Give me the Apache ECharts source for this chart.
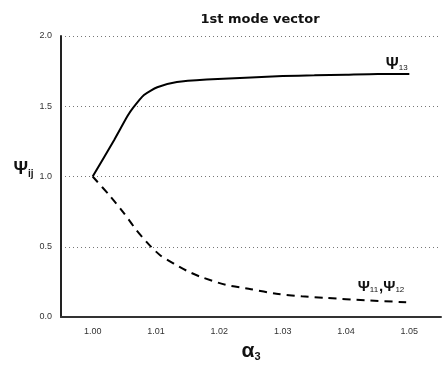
<!DOCTYPE html>
<html>
<head>
<meta charset="utf-8">
<script src="https://cdn.jsdelivr.net/npm/echarts@6/dist/echarts.min.js"></script>
<style>
  html, body { margin: 0; padding: 0; background: #fff; }
  #chart { width: 444px; height: 367px; }
</style>
</head>
<body>
<div id="chart"></div>
<script>
// alpha_3 values and mode shape components
var psi13X = [1.000, 1.0034, 1.0055, 1.0064, 1.0081, 1.0102, 1.0133, 1.018, 1.025, 1.030, 1.035, 1.040, 1.045, 1.050];
var psi13Y = [1.00, 1.26, 1.43, 1.49, 1.58, 1.635, 1.672, 1.69, 1.705, 1.715, 1.72, 1.725, 1.73, 1.73];
var psi11X = [1.000, 1.0028, 1.0049, 1.0068, 1.0089, 1.0107, 1.013, 1.015, 1.017, 1.021, 1.025, 1.029, 1.033, 1.037, 1.043, 1.0495];
var psi11Y = [1.00, 0.858, 0.741, 0.625, 0.515, 0.438, 0.375, 0.326, 0.287, 0.229, 0.198, 0.165, 0.147, 0.135, 0.119, 0.105];
var yTicks = [0, 0.5, 1.0, 1.5, 2.0];

function pairs(xs, ys) {
  return xs.map(function (x, i) { return [x, ys[i]]; });
}

var chart = echarts.init(document.getElementById("chart"));
var font = "Liberation Sans";

var option = {
  animation: false,
  backgroundColor: "#fff",
  title: {
    text: "1st mode vector",
    left: 255,
    top: 8,
    textAlign: "center",
    textStyle: { fontFamily: "DejaVu Sans", fontSize: 13, fontWeight: "bold", color: "#111" }
  },
  grid: { left: 61, right: 0, top: 36, bottom: 46 },
  xAxis: {
    type: "value",
    min: 0.995,
    max: 1.055,
    interval: 0.005,
    name: "{a|α}{s|3}",
    nameLocation: "middle",
    nameGap: 24,
    nameTextStyle: {
      rich: {
        a: { fontFamily: font, fontSize: 21, fontWeight: "bold", color: "#111" },
        s: { fontFamily: font, fontSize: 11, fontWeight: "bold", color: "#111", verticalAlign: "bottom", padding: [8, 0, 0, 0] }
      }
    },
    axisLine: { lineStyle: { color: "#333", width: 2 } },
    axisTick: { show: false },
    splitLine: { show: false },
    axisLabel: {
      margin: 10,
      fontFamily: font,
      fontSize: 9,
      color: "#333",
      formatter: function (v) {
        var k = Math.round(v * 1000);
        return k % 10 === 0 ? (k / 1000).toFixed(2) : "";
      }
    }
  },
  yAxis: {
    type: "value",
    min: yTicks[0],
    max: yTicks[yTicks.length - 1],
    interval: 0.5,
    name: "{a|Ψ}{s|ij}",
    nameLocation: "middle",
    nameRotate: 0,
    nameGap: 24,
    nameTextStyle: {
      align: "right",
      padding: [0, 0, 14, 0],
      rich: {
        a: { fontFamily: font, fontSize: 18, fontWeight: "bold", color: "#111" },
        s: { fontFamily: font, fontSize: 10, fontWeight: "bold", color: "#111", padding: [9, 0, 0, 0] }
      }
    },
    axisLine: { show: true, lineStyle: { color: "#222", width: 2 } },
    axisTick: { show: false },
    axisLabel: {
      margin: 9,
      fontFamily: font,
      fontSize: 9,
      color: "#333",
      formatter: function (v) { return v.toFixed(1); }
    },
    splitLine: { show: true, lineStyle: { color: "#777", type: [1, 3], width: 1 } }
  },
  series: [
    {
      name: "psi13",
      type: "line",
      smooth: 0.2,
      symbol: "none",
      lineStyle: { color: "#000", width: 2 },
      data: pairs(psi13X, psi13Y),
      markPoint: {
        symbol: "circle",
        symbolSize: 0,
        data: [{ coord: [1.048, 1.80] }],
        label: {
          show: true,
          formatter: "{a|Ψ}{s|13}",
          rich: {
            a: { fontFamily: font, fontSize: 16, fontWeight: "bold", color: "#111" },
            s: { fontFamily: font, fontSize: 8, color: "#111", padding: [7, 0, 0, 0] }
          }
        }
      }
    },
    {
      name: "psi11",
      type: "line",
      smooth: 0.25,
      symbol: "none",
      lineStyle: { color: "#000", width: 2, type: [8, 6] },
      data: pairs(psi11X, psi11Y),
      markPoint: {
        symbol: "circle",
        symbolSize: 0,
        data: [{ coord: [1.0456, 0.215] }],
        label: {
          show: true,
          formatter: "{a|Ψ}{s|11}{a|,Ψ}{s|12}",
          rich: {
            a: { fontFamily: font, fontSize: 15, fontWeight: "bold", color: "#111" },
            s: { fontFamily: font, fontSize: 8, color: "#111", padding: [7, 1, 0, 0] }
          }
        }
      }
    }
  ]
};

chart.setOption(option);
</script>
</body>
</html>
